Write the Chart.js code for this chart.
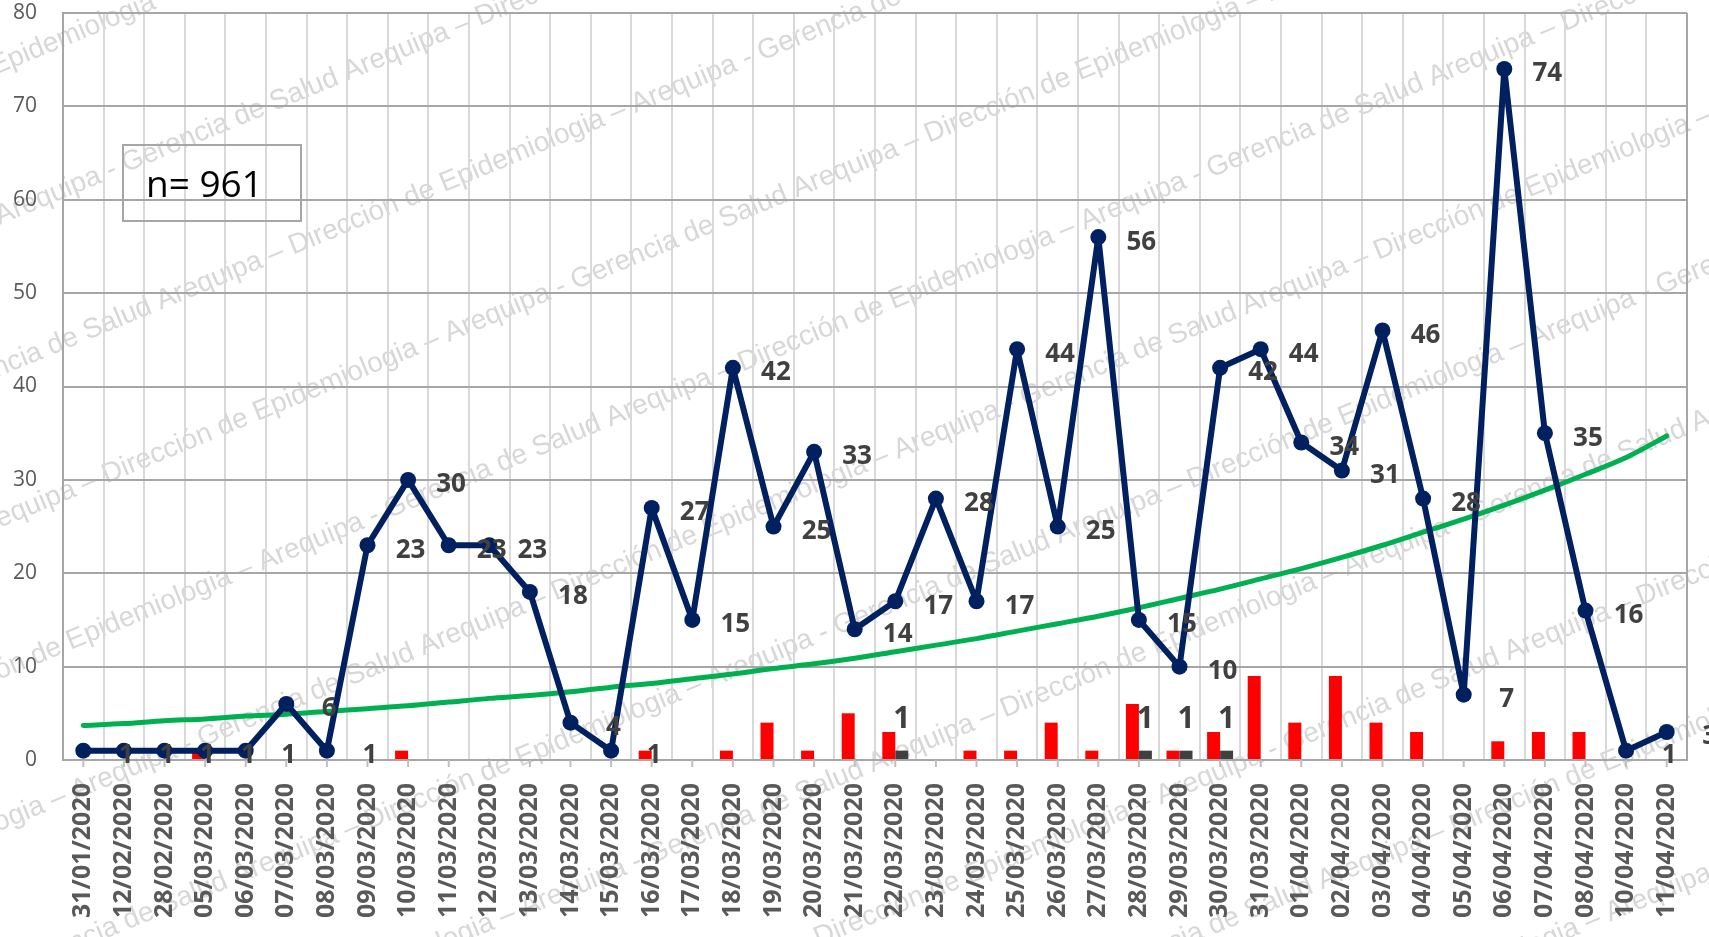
<!DOCTYPE html>
<html>
<head>
<meta charset="utf-8">
<script src="https://cdn.jsdelivr.net/npm/chart.js@4.4.1/dist/chart.umd.min.js"></script>
<style>
html, body { margin: 0; padding: 0; background: #fff; overflow: hidden; }
#contenedor { position: relative; width: 1709px; height: 937px; }
</style>
</head>
<body>
<div id="contenedor"><canvas id="graficoCasos"></canvas></div>
<script>
const fechas = [
    '31/01/2020', '12/02/2020', '28/02/2020', '05/03/2020', '06/03/2020', '07/03/2020', '08/03/2020',
    '09/03/2020', '10/03/2020', '11/03/2020', '12/03/2020', '13/03/2020', '14/03/2020', '15/03/2020',
    '16/03/2020', '17/03/2020', '18/03/2020', '19/03/2020', '20/03/2020', '21/03/2020', '22/03/2020',
    '23/03/2020', '24/03/2020', '25/03/2020', '26/03/2020', '27/03/2020', '28/03/2020', '29/03/2020',
    '30/03/2020', '31/03/2020', '01/04/2020', '02/04/2020', '03/04/2020', '04/04/2020', '05/04/2020',
    '06/04/2020', '07/04/2020', '08/04/2020', '10/04/2020', '11/04/2020'
];
const casos = [1, 1, 1, 1, 1, 6, 1, 23, 30, 23, 23, 18, 4, 1, 27, 15, 42, 25, 33, 14,
    17, 28, 17, 44, 25, 56, 15, 10, 42, 44, 34, 31, 46, 28, 7, 74, 35, 16, 1, 3];
const tendencia = [3.7, 3.9, 4.2, 4.4, 4.7, 4.9, 5.2, 5.5, 5.8, 6.2, 6.6, 6.9, 7.3, 7.8, 8.2, 8.7,
    9.2, 9.8, 10.3, 10.9, 11.6, 12.3, 13.0, 13.8, 14.6, 15.4, 16.3, 17.3, 18.3, 19.4,
    20.5, 21.7, 23.0, 24.4, 25.8, 27.3, 28.9, 30.6, 32.4, 34.7];
const barrasRojas = [0, 0, 0, 1, 0, 0, 0, 0, 1, 0, 0, 0, 0, 0, 1, 0, 1, 4, 1, 5,
    3, 0, 1, 1, 4, 1, 6, 1, 3, 9, 4, 9, 4, 3, 0, 2, 3, 3, 0, 0];
const barrasOscuras = [null, null, null, null, null, null, null, null, null, null, null, null, null, null,
    null, null, null, null, null, null, 1, null, null, null, null, null, 1, 1, 1, null,
    null, null, null, null, null, null, null, null, null, null];
const ejeY = { min: 0, max: 80, paso: 10 };
const textoTotal = 'n= 961';
const textoMarca = 'Gerencia de Salud Arequipa \u2013 Direcci\u00f3n de Epidemiologia \u2013 Arequipa - ';

const marcaAgua = {
    id: 'marcaAgua',
    beforeDraw(chart) {
        const ctx = chart.ctx;
        ctx.save();
        ctx.font = '28px "Liberation Sans"';
        ctx.fillStyle = 'rgba(150,150,150,0.38)';
        ctx.textBaseline = 'middle';
        const ancho = ctx.measureText(textoMarca).width;
        ctx.translate(chart.width / 2, chart.height / 2);
        ctx.rotate(-22.5 * Math.PI / 180);
        for (let k = -8; k <= 8; k++) {
            const y = k * 140;
            const fase = (k * 260) % ancho;
            for (let x = -1600 - fase; x < 1600; x += ancho) {
                ctx.fillText(textoMarca, x, y);
            }
        }
        ctx.restore();
    }
};

const extras = {
    id: 'extras',
    afterDatasetsDraw(chart) {
        const ctx = chart.ctx;
        const area = chart.chartArea;
        const x = chart.scales.x;
        ctx.save();

        // marcas del eje x al centro de cada fecha
        ctx.strokeStyle = '#bfbfbf';
        ctx.lineWidth = 2;
        fechas.forEach((f, i) => {
            const px = x.getPixelForValue(i);
            ctx.beginPath();
            ctx.moveTo(px, area.bottom);
            ctx.lineTo(px, area.bottom + 7);
            ctx.stroke();
        });

        // borde derecho
        ctx.strokeStyle = '#a6a6a6';
        ctx.beginPath();
        ctx.moveTo(area.right, area.top);
        ctx.lineTo(area.right, area.bottom);
        ctx.stroke();

        // etiquetas de la serie de casos
        ctx.fillStyle = '#404040';
        ctx.font = 'bold 26px "Open Sans"';
        ctx.textAlign = 'center';
        ctx.textBaseline = 'middle';
        const metaLinea = chart.getDatasetMeta(0);
        metaLinea.data.forEach((p, i) => {
            ctx.fillText(String(casos[i]), p.x + 43, p.y + 5);
        });

        // etiquetas de las barras oscuras
        ctx.font = 'bold 30px "Open Sans"';
        const metaOscura = chart.getDatasetMeta(3);
        metaOscura.data.forEach((b, i) => {
            if (barrasOscuras[i] == null) return;
            ctx.fillText(String(barrasOscuras[i]), b.x, b.y - 31);
        });

        // cuadro n=
        ctx.strokeStyle = '#a6a6a6';
        ctx.lineWidth = 2;
        ctx.strokeRect(area.left + 60, area.top + 132, 178, 76);
        ctx.fillStyle = '#000';
        ctx.font = '37px "Open Sans"';
        ctx.textAlign = 'left';
        ctx.textBaseline = 'alphabetic';
        ctx.fillText(textoTotal, area.left + 83, area.top + 184);

        ctx.restore();
    }
};

const ctx = document.getElementById('graficoCasos').getContext('2d');
new Chart(ctx, {
    data: {
        labels: fechas,
        datasets: [
            {
                type: 'line',
                label: 'Casos',
                data: casos,
                borderColor: '#002060',
                backgroundColor: '#002060',
                borderWidth: 6,
                borderJoinStyle: 'round',
                borderCapStyle: 'round',
                pointRadius: 8,
                pointBorderWidth: 0,
                pointBackgroundColor: '#002060',
                tension: 0,
                order: 1
            },
            {
                type: 'line',
                label: 'Tendencia',
                data: tendencia,
                borderColor: '#00b050',
                borderWidth: 5,
                borderCapStyle: 'round',
                pointRadius: 0,
                tension: 0.3,
                order: 2
            },
            {
                type: 'bar',
                label: 'Rojo',
                data: barrasRojas,
                backgroundColor: '#ff0000',
                categoryPercentage: 0.64,
                barPercentage: 1.0,
                order: 3
            },
            {
                type: 'bar',
                label: 'Oscuro',
                data: barrasOscuras,
                backgroundColor: '#404040',
                categoryPercentage: 0.64,
                barPercentage: 1.0,
                order: 4
            }
        ]
    },
    options: {
        responsive: true,
        maintainAspectRatio: false,
        animation: false,
        layout: { padding: { top: 13, right: 22, left: 0, bottom: 0 } },
        plugins: {
            legend: { display: false },
            tooltip: { enabled: false }
        },
        scales: {
            x: {
                type: 'category',
                offset: true,
                grid: { offset: true, color: '#d9d9d9', lineWidth: 2, drawTicks: false },
                border: { color: '#a6a6a6', width: 2 },
                ticks: {
                    autoSkip: false,
                    maxRotation: 90,
                    minRotation: 90,
                    padding: 23,
                    color: '#595959',
                    font: { family: '"Open Sans"', size: 25, weight: 'bold' }
                },
                afterFit: s => {
                    s.height = 177;
                    s.paddingLeft = 0;
                    s.paddingRight = 0;
                }
            },
            y: {
                min: ejeY.min,
                max: ejeY.max,
                grid: { color: '#a6a6a6', lineWidth: 2, drawTicks: false },
                border: { color: '#a6a6a6', width: 2 },
                ticks: {
                    stepSize: ejeY.paso,
                    padding: 26,
                    color: '#595959',
                    font: { family: '"Open Sans"', size: 21 }
                },
                afterFit: s => {
                    s.width = 63;
                    s.paddingTop = 0;
                    s.paddingBottom = 0;
                }
            }
        }
    },
    plugins: [marcaAgua, extras]
});
</script>
</body>
</html>
